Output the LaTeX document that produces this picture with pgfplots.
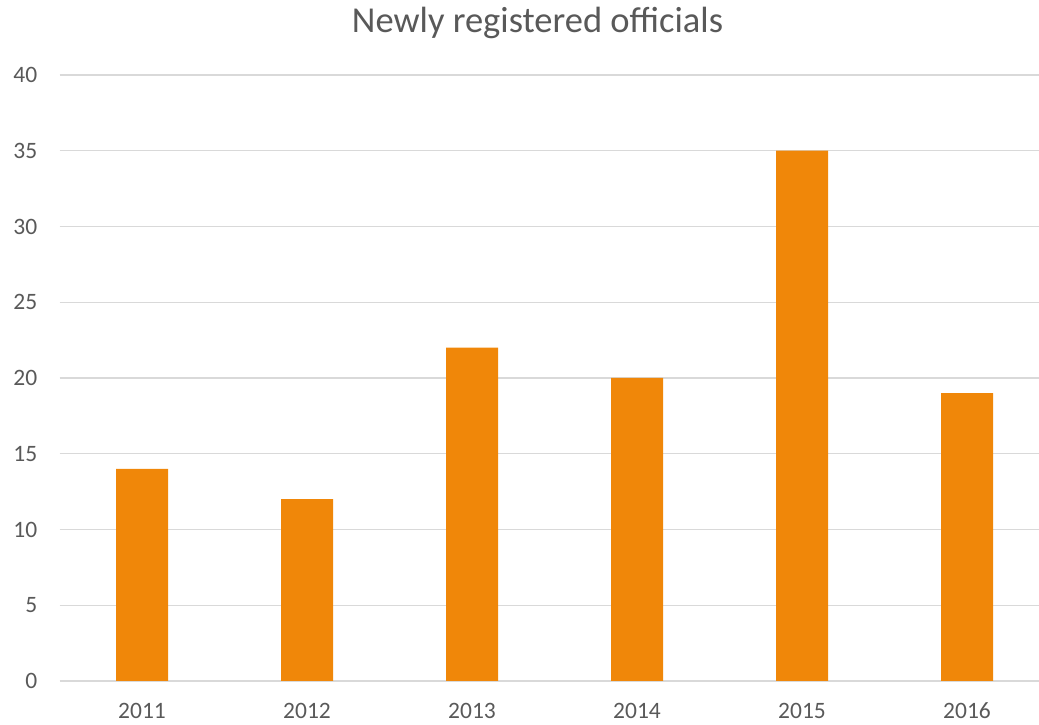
\documentclass[border=0pt]{standalone}
\usepackage{pgfplots}
\pgfplotsset{compat=1.18}
\usepackage{fontspec}
\setmainfont{Carlito}
\definecolor{barorange}{HTML}{F08709}
\definecolor{txtgray}{HTML}{595959}
\definecolor{gridgray}{HTML}{D9D9D9}
\begin{document}
\begin{tikzpicture}[x=1pt,y=1pt]
\path[use as bounding box] (0,0) rectangle (1039,725);
\begin{axis}[
  at={(59.5pt,44pt)}, anchor=south west,
  scale only axis,
  width=979.5pt, height=606pt,
  xmin=-0.5, xmax=5.436,
  ymin=0, ymax=40,
  ytick={0,5,...,40},
  xtick={0,1,2,3,4,5},
  xticklabels={2011,2012,2013,2014,2015,2016},
  axis line style={draw=none},
  major tick length=0pt,
  ymajorgrids,
  grid style={gridgray, line width=1.3pt},
  tick label style={font=\fontsize{23.5}{26}\selectfont, text=txtgray},
  yticklabel style={anchor=east, inner sep=0pt, xshift=-22pt},
  xticklabel style={anchor=north, inner sep=0pt, text height=15pt, text depth=0pt, yshift=-22pt},
  /pgf/number format/assume math mode=true,
  clip=false,
]
\addplot[ybar, bar width=52pt, fill=barorange, draw=none] coordinates {
  (0,14) (1,12) (2,22) (3,20) (4,35) (5,19)
};
\end{axis}
\node[font=\fontsize{36.5}{40}\selectfont, text=txtgray] at (537.5,702) {Newly registered officials};
\end{tikzpicture}
\end{document}
